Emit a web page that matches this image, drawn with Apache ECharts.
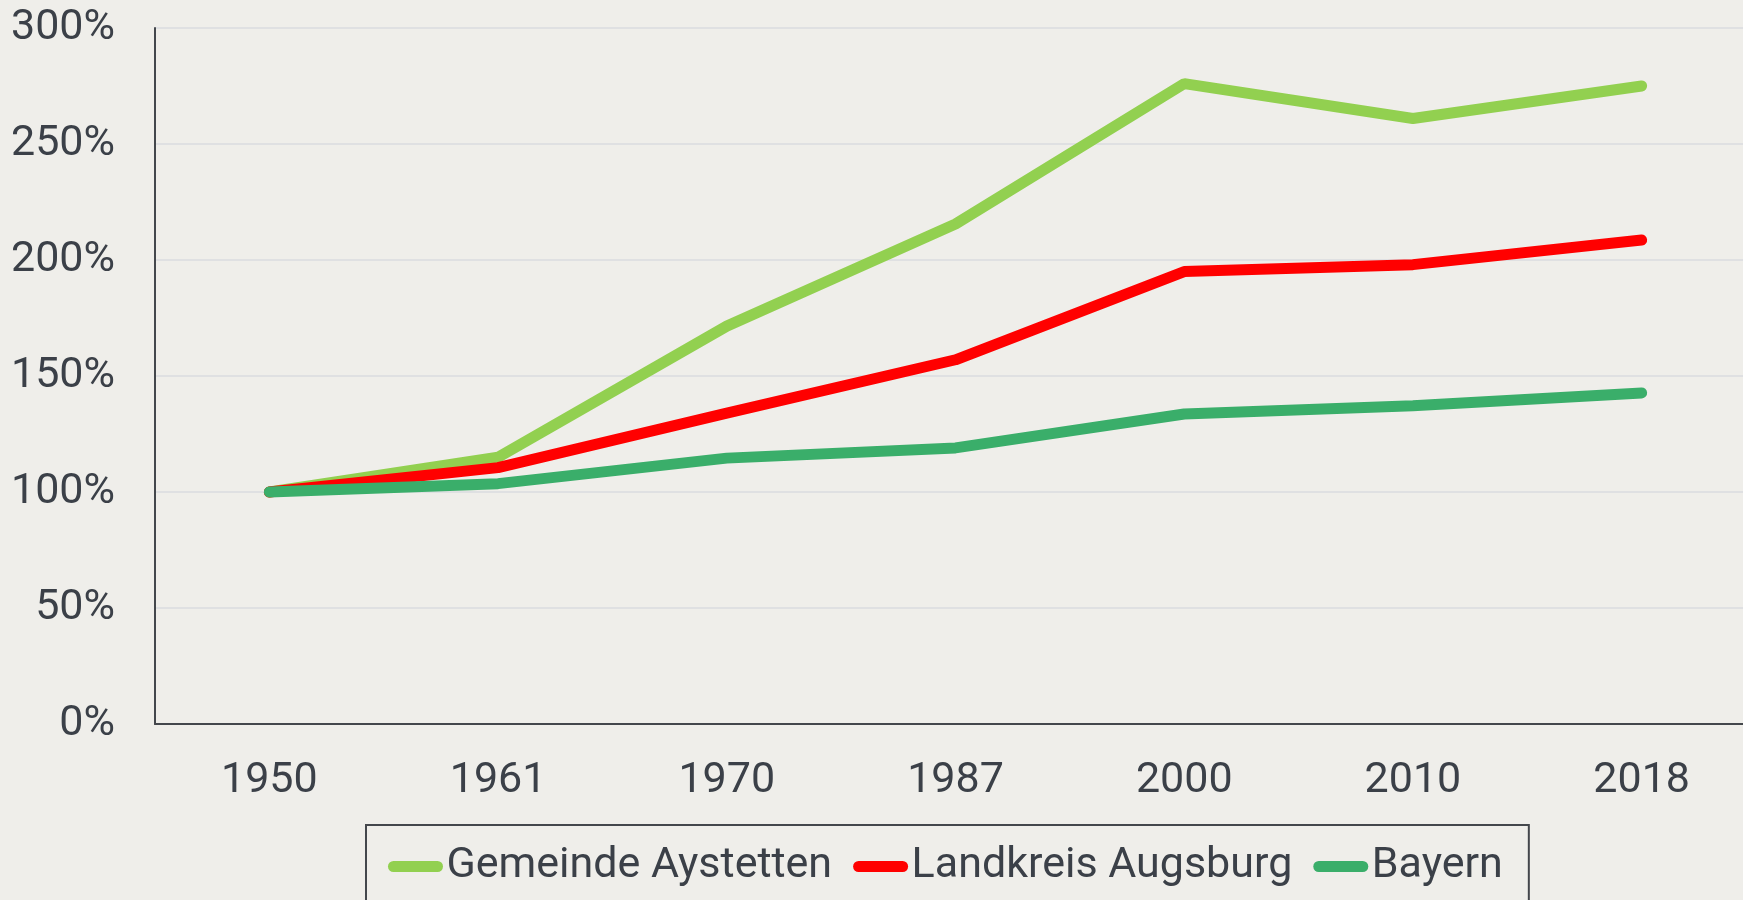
<!DOCTYPE html>
<html>
<head>
<meta charset="utf-8">
<script src="https://cdn.jsdelivr.net/npm/echarts@6/dist/echarts.min.js"></script>
<style>
html,body{margin:0;padding:0;background:#efeeea;}
#c{width:1743px;height:900px;}
</style>
</head>
<body>
<div id="c"></div>
<script>
const categories = ['1950', '1961', '1970', '1987', '2000', '2010', '2018'];
const seriesNames = ['Gemeinde Aystetten', 'Landkreis Augsburg', 'Bayern'];
const aystetten = [100, 115, 171.5, 215.5, 276, 261, 275];
const landkreis = [100, 110.5, 134, 157, 195, 198, 208.6];
const bayern = [100, 103.6, 114.6, 119, 133.6, 137.2, 142.7];
const yTicks = [0, 50, 100, 150, 200, 250, 300];

const colors = ['#92d050', '#ff0000', '#3aae6a'];
const textColor = '#3b4048';
const capsule = 'path://M6,0 H54 A6,6 0 0 1 54,12 H6 A6,6 0 0 1 6,0 Z';

const chart = echarts.init(document.getElementById('c'), null, {renderer: 'canvas'});
const values = [aystetten, landkreis, bayern];

chart.setOption({
  backgroundColor: '#efeeea',
  animation: false,
  textStyle: {fontFamily: 'Roboto'},
  grid: {left: 155, right: -13, top: 28, bottom: 176, containLabel: false, outerBoundsMode: 'none'},
  legend: {
    data: seriesNames.map((n, i) => ({name: n, icon: capsule, itemStyle: {color: colors[i]}})),
    left: 366,
    top: 825,
    itemWidth: 60,
    itemHeight: 11,
    itemGap: 21,
    padding: [20, 26, 40, 22],
    borderColor: '#44474c',
    borderWidth: 2,
    textStyle: {fontSize: 43, color: textColor, fontFamily: 'Roboto', padding: [0, 0, 0, -4]}
  },
  xAxis: {
    type: 'category',
    data: categories,
    boundaryGap: true,
    axisLine: {show: true, lineStyle: {color: '#44474c', width: 2}},
    axisTick: {show: false},
    axisLabel: {fontSize: 43, color: textColor, margin: 36, fontFamily: 'Roboto'},
    splitLine: {show: false}
  },
  yAxis: {
    type: 'value',
    min: yTicks[0],
    max: yTicks[yTicks.length - 1],
    interval: 50,
    axisLine: {show: true, lineStyle: {color: '#44474c', width: 2}},
    axisTick: {show: false},
    axisLabel: {fontSize: 43, color: textColor, margin: 40, formatter: '{value}%', fontFamily: 'Roboto'},
    splitLine: {show: true, lineStyle: {color: '#dfe0e2', width: 2}}
  },
  series: seriesNames.map((n, i) => ({
    name: n,
    type: 'line',
    data: values[i],
    symbol: 'none',
    showSymbol: false,
    lineStyle: {color: colors[i], width: 11, cap: 'round'},
    itemStyle: {color: colors[i]},
    emphasis: {disabled: true}
  }))
});
</script>
</body>
</html>
